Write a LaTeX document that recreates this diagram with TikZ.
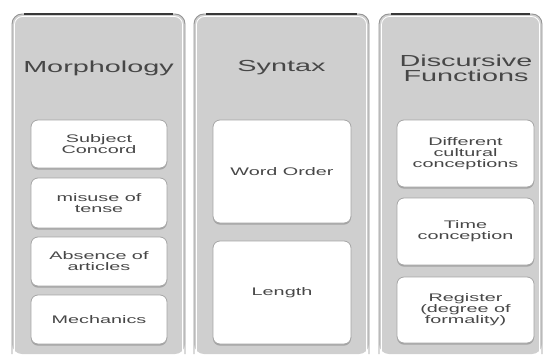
\documentclass[tikz,border=0pt]{standalone}
\usepackage{fontspec}
\setmainfont[FakeStretch=1.8]{Liberation Sans}
\usetikzlibrary{shadows}
\newcommand{\coltop}{14}
\newcommand{\colbot}{354}
\newcommand{\panelcolor}{black!19!white}
\newcommand{\edgecolor}{black!42!white}
\newcommand{\rimcolor}{black!78!white}
\newcommand{\inkcolor}{black!72!white}

\begin{document}
\begin{tikzpicture}[x=1pt, y=-1pt,
    headtext/.style={text=\inkcolor, align=center, font=\fontsize{16}{15}\selectfont},
    itembox/.style={draw=black!35!white, fill=white, rounded corners=7pt, line width=0.8pt,
        align=center, text=\inkcolor, font=\fontsize{11}{11}\selectfont,
        drop shadow={shadow xshift=0pt, shadow yshift=-1.6pt, fill=black!40, opacity=0.8}}]
        \useasboundingbox (0,0) rectangle (545,356);

        % color
        \fill[\panelcolor, rounded corners=10pt] (12,\colbot) -- (12,\coltop) -- (185,\coltop) -- (185,\colbot) -- cycle;
        \fill[\panelcolor, rounded corners=10pt] (194,\colbot) -- (194,\coltop) -- (369,\coltop) -- (369,\colbot) -- cycle;
        \fill[\panelcolor, rounded corners=10pt] (379,\colbot) -- (379,\coltop) -- (542,\coltop) -- (542,\colbot) -- cycle;

        % panel edges
        \draw[\edgecolor, line width=0.9pt, rounded corners=10pt] (12,\colbot) -- (12,\coltop) -- (185,\coltop) -- (185,\colbot);
        \draw[\edgecolor, line width=0.9pt, rounded corners=10pt] (194,\colbot) -- (194,\coltop) -- (369,\coltop) -- (369,\colbot);
        \draw[\edgecolor, line width=0.9pt, rounded corners=10pt] (379,\colbot) -- (379,\coltop) -- (542,\coltop) -- (542,\colbot);
        \draw[white, line width=0.8pt, rounded corners=8pt] (14.5,\colbot) -- (14.5,\coltop+2.5) -- (182.5,\coltop+2.5) -- (182.5,\colbot);
        \draw[white, line width=0.8pt, rounded corners=8pt] (196.5,\colbot) -- (196.5,\coltop+2.5) -- (366.5,\coltop+2.5) -- (366.5,\colbot);
        \draw[white, line width=0.8pt, rounded corners=8pt] (381.5,\colbot) -- (381.5,\coltop+2.5) -- (539.5,\coltop+2.5) -- (539.5,\colbot);

        % top rims
        \draw[\rimcolor, line width=2pt] (24,\coltop) -- (173,\coltop);
        \draw[\rimcolor, line width=2pt] (206,\coltop) -- (357,\coltop);
        \draw[\rimcolor, line width=2pt] (391,\coltop) -- (530,\coltop);

        % headings
        \node[headtext] (morph) at (98.5,68) {Morphology};
        \node[headtext] (synt) at (281.5,68) {Syntax};
        \node[headtext] (disc) at (466,68) {Discursive\\Functions};

        % morphology items
        \node[itembox, minimum width=136pt, minimum height=48pt] (subj) at (99,144) {Subject\\Concord};
        \node[itembox, minimum width=136pt, minimum height=50pt] (tense) at (99,203) {misuse of\\tense};
        \node[itembox, minimum width=136pt, minimum height=49pt] (artic) at (99,261.5) {Absence of\\articles};
        \node[itembox, minimum width=136pt, minimum height=49pt] (mech) at (99,319.5) {Mechanics};

        % syntax items
        \node[itembox, minimum width=138pt, minimum height=103pt] (order) at (282,171.5) {Word Order};
        \node[itembox, minimum width=138pt, minimum height=103pt] (len) at (282,292.5) {Length};

        % discursive items
        \node[itembox, minimum width=137pt, minimum height=67pt] (cult) at (465.5,153.5) {Different\\cultural\\conceptions};
        \node[itembox, minimum width=137pt, minimum height=67pt] (time) at (465.5,231.5) {Time\\conception};
        \node[itembox, minimum width=137pt, minimum height=66pt] (reg) at (465.5,310) {Register\\(degree of\\formality)};
    \end{tikzpicture}
\end{document}
